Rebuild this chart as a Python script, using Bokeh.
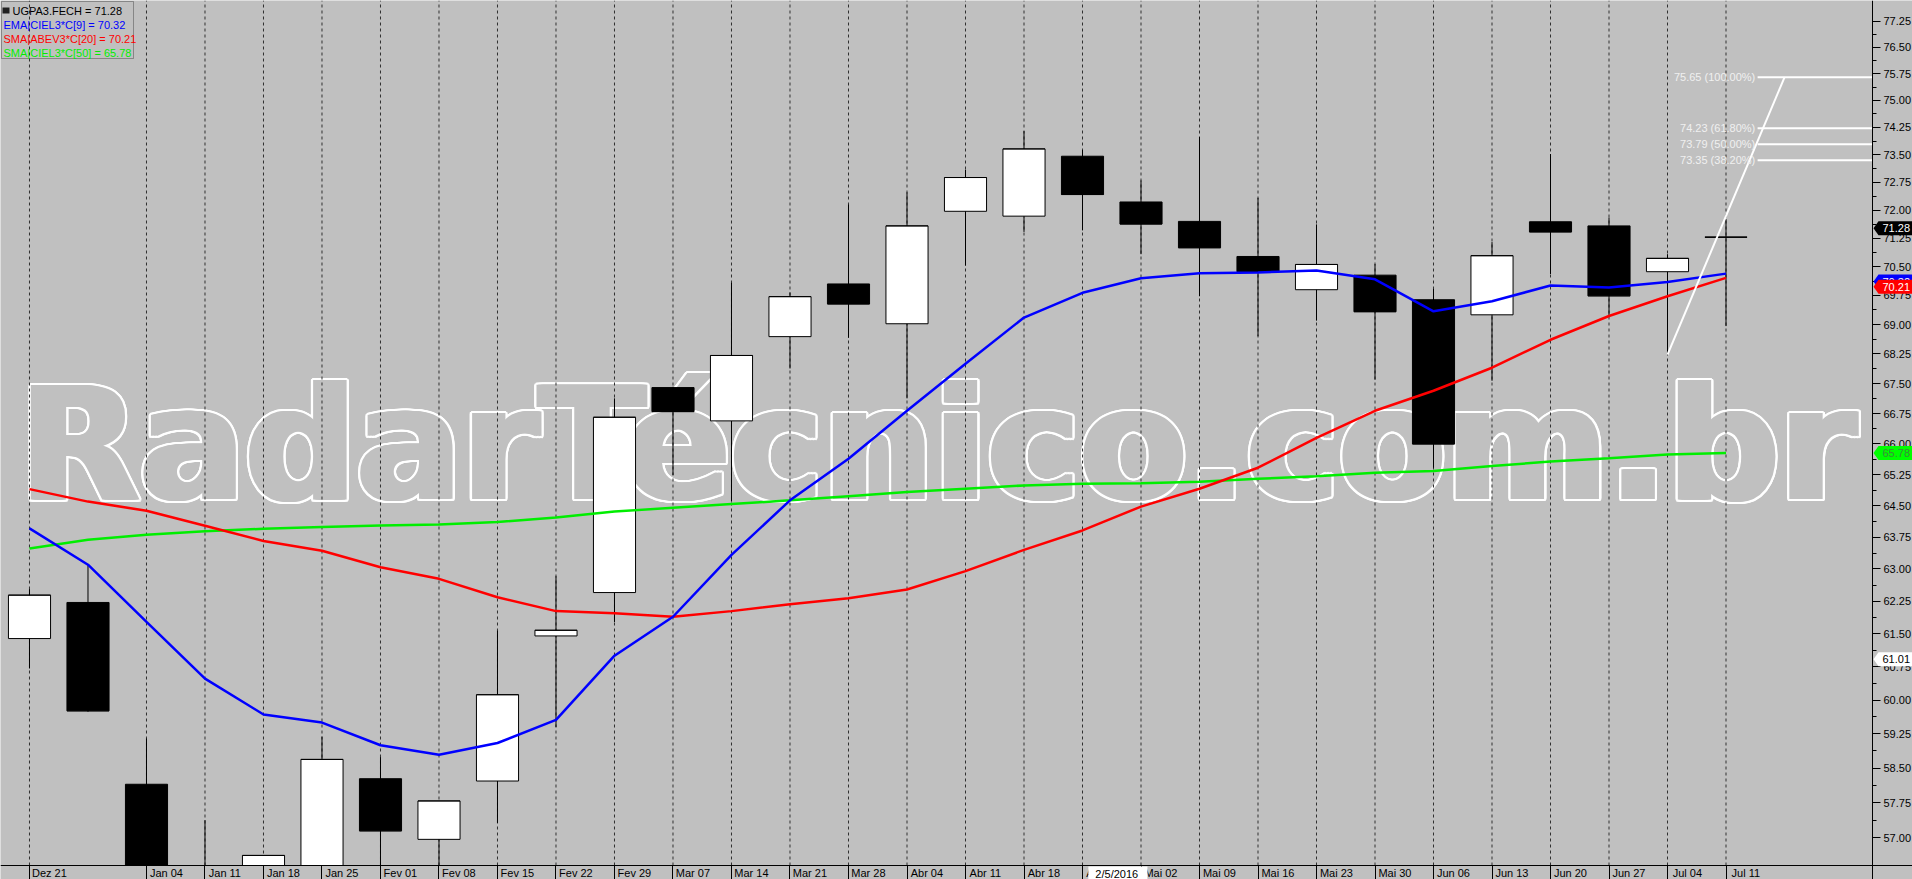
import math
from bokeh.plotting import figure
from bokeh.models import (Range1d, FixedTicker, PrintfTickFormatter, Label,
                          BoxAnnotation, PolyAnnotation, ColumnDataSource)
from bokeh.core.properties import value
from bokeh.embed import file_html
from bokeh.resources import INLINE

# ---------------- data ----------------
week_labels = ["Dez 21", "", "Jan 04", "Jan 11", "Jan 18", "Jan 25", "Fev 01", "Fev 08",
               "Fev 15", "Fev 22", "Fev 29", "Mar 07", "Mar 14", "Mar 21", "Mar 28",
               "Abr 04", "Abr 11", "Abr 18", "Abr 25", "Mai 02", "Mai 09", "Mai 16",
               "Mai 23", "Mai 30", "Jun 06", "Jun 13", "Jun 20", "Jun 27", "Jul 04", "Jul 11"]

opens  = [61.39, 62.22, 58.15, 56.10, 55.80, 56.20, 58.27, 56.97, 58.22, 61.45,
          62.45, 67.40, 66.57, 68.69, 70.05, 69.02, 71.97, 71.84, 73.46, 72.22,
          71.70, 70.77, 69.90, 70.28, 69.64, 69.25, 71.69, 71.58, 70.37, 71.28]
highs  = [62.53, 63.10, 59.15, 57.38, 56.63, 59.19, 58.74, 57.79, 61.57, 62.83,
          67.13, 67.42, 70.08, 69.83, 72.15, 72.48, 73.09, 74.15, 73.63, 72.80,
          73.99, 72.33, 71.62, 70.57, 69.92, 71.15, 73.52, 71.80, 70.83, 71.76]
lows   = [60.71, 59.74, 55.60, 55.00, 55.50, 55.90, 56.20, 56.30, 57.32, 59.40,
          61.77, 65.24, 64.60, 67.88, 68.66, 67.13, 70.53, 71.42, 71.46, 70.83,
          69.73, 68.70, 69.10, 67.60, 65.42, 67.57, 70.31, 69.20, 68.23, 68.96]
closes = [62.39, 59.76, 56.00, 55.50, 56.63, 58.69, 57.15, 57.79, 60.12, 61.58,
          66.66, 66.80, 68.21, 69.72, 69.53, 71.58, 72.88, 73.66, 72.42, 71.63,
          71.00, 70.37, 70.56, 69.33, 66.00, 70.79, 71.42, 69.74, 70.72, 71.28]

ema9  = [63.96, 63.10, 61.77, 60.48, 59.68, 59.50, 59.00, 58.79, 59.05, 59.56,
         61.00, 61.89, 63.33, 64.63, 65.64, 66.82, 68.00, 69.18, 69.82, 70.20,
         70.33, 70.35, 70.40, 70.17, 69.34, 69.60, 70.01, 69.96, 70.10, 70.32]
sma20 = [64.90, 64.60, 64.38, 64.02, 63.66, 63.43, 63.04, 62.77, 62.34, 62.02,
         61.97, 61.89, 62.02, 62.18, 62.32, 62.52, 62.95, 63.45, 63.91, 64.48,
         64.91, 65.42, 66.15, 66.82, 67.32, 67.90, 68.61, 69.22, 69.73, 70.21]
sma50 = [63.48, 63.69, 63.81, 63.89, 63.95, 63.99, 64.03, 64.05, 64.11, 64.22,
         64.36, 64.45, 64.54, 64.63, 64.73, 64.83, 64.91, 64.99, 65.03, 65.04,
         65.08, 65.15, 65.21, 65.30, 65.34, 65.46, 65.57, 65.65, 65.74, 65.78]

fib_levels = [75.65, 74.23, 73.79, 73.35]
fib_pcts = ["100.00%", "61.80%", "50.00%", "38.20%"]

y_tick_values = [57.00, 57.75, 58.50, 59.25, 60.00, 60.75, 61.50, 62.25, 63.00, 63.75,
                 64.50, 65.25, 66.00, 66.75, 67.50, 68.25, 69.00, 69.75, 70.50, 71.25,
                 72.00, 72.75, 73.50, 74.25, 75.00, 75.75, 76.50, 77.25]

tag_values = [61.01, 65.78, 70.32, 70.21, 71.28]
tag_fill = ["white", "#00ff00", "#0000ff", "#ff0000", "black"]
tag_text = ["black", "#3c8c3c", "white", "white", "white"]
tag_nudge = [4, 0, 8, 9, -9]   # pixel nudges the platform applies to avoid overlaps

cursor_date = "2/5/2016"
cursor_week = 18
watermark = "RadarTécnico.com.br"

# ---------------- figure ----------------
W, H = 1912, 879
X0, X1 = -0.4957, 32.188          # whole canvas is the frame
Y0, Y1 = 56.125, 77.843
X_AXIS_AT = 31.504                # right axis line (x data)
Y_AXIS_AT = 56.418                # bottom axis line (price)
BG = "#c0c0c0"
FONT = "Liberation Sans"

p = figure(width=W, height=H, output_backend="svg", toolbar_location=None,
           x_range=Range1d(X0, X1), y_range=Range1d(Y0, Y1),
           y_axis_type="log", y_axis_location="right",
           min_border_left=0, min_border_top=0, min_border_right=0, min_border_bottom=0,
           background_fill_color=BG, border_fill_color=BG, outline_line_color=None)

idx = list(range(len(week_labels)))
tick_idx = [i for i in idx if week_labels[i]]
label_pos = [round(i + 0.34, 2) for i in tick_idx]

xax = p.xaxis[0]
xax.fixed_location = Y_AXIS_AT
xax.ticker = FixedTicker(ticks=label_pos, minor_ticks=tick_idx)
xax.major_label_overrides = {lp: week_labels[i] for lp, i in zip(label_pos, tick_idx)}
xax.major_tick_out = 0
xax.major_tick_in = 0
xax.minor_tick_out = 14
xax.minor_tick_in = 0
xax.minor_tick_line_color = "black"
xax.axis_line_color = "black"
xax.major_label_standoff = -13
xax.major_label_text_font = FONT
xax.major_label_text_font_size = "11px"
xax.major_label_text_color = "black"

yax = p.yaxis[0]
yax.fixed_location = X_AXIS_AT
y_minor = [(a + b) / 2 for a, b in zip(y_tick_values[:-1], y_tick_values[1:])]
yax.ticker = FixedTicker(ticks=y_tick_values, minor_ticks=y_minor)
yax.formatter = PrintfTickFormatter(format="%.2f")
yax.major_tick_out = 8
yax.major_tick_in = 0
yax.minor_tick_out = 4
yax.minor_tick_in = 0
yax.major_tick_line_color = "black"
yax.minor_tick_line_color = "black"
yax.axis_line_color = "black"
yax.major_label_standoff = 3
yax.major_label_text_font = FONT
yax.major_label_text_font_size = "11px"
yax.major_label_text_color = "black"

p.xgrid.visible = False
p.ygrid.visible = False

# watermark: heavy letters (faux-bold copies) with a white 2px outline
WM_X, WM_Y, WM_SIZE = -0.17, 65.97, "156px"
core = [(-3.0, 0.0), (-1.5, 0.0), (0.0, 0.0), (1.5, 0.0), (3.0, 0.0)]
ring = [(2.2 * math.cos(a * math.pi / 8), 2.2 * math.sin(a * math.pi / 8)) for a in range(16)]
outline_offs = [(cx + rx, cy + ry) for cx, cy in core[::2] for rx, ry in ring]
wm_style = dict(text_font=value("DejaVu Sans"), text_font_style="bold", text_font_size=WM_SIZE,
                text_align="left", text_baseline="alphabetic")
p.text(x=[WM_X] * len(outline_offs), y=[WM_Y] * len(outline_offs),
       text=[watermark] * len(outline_offs),
       x_offset=[o[0] for o in outline_offs], y_offset=[o[1] for o in outline_offs],
       text_color="white", **wm_style)
p.text(x=[WM_X] * len(core), y=[WM_Y] * len(core), text=[watermark] * len(core),
       x_offset=[o[0] for o in core], y_offset=[o[1] for o in core],
       text_color=BG, **wm_style)

# dashed week grid, drawn above the watermark
p.segment(x0=tick_idx, y0=[Y_AXIS_AT] * len(tick_idx), x1=tick_idx, y1=[Y1] * len(tick_idx),
          line_color="#303030", line_dash="3 3", line_width=1)

# ---------------- candles (cut at the bottom axis) ----------------
nan = float("nan")
def cut(v):
    return max(v, Y_AXIS_AT)
body_top = [max(o, c) for o, c in zip(opens, closes)]
body_bot = [min(o, c) for o, c in zip(opens, closes)]
vis_top = [t if t > Y_AXIS_AT else nan for t in body_top]
vis_bot = [cut(b) if t > Y_AXIS_AT else nan for t, b in zip(body_top, body_bot)]
wick_hi = [h if h > Y_AXIS_AT else nan for h in highs]
wick_lo = [cut(l) if h > Y_AXIS_AT else nan for h, l in zip(highs, lows)]
close_ln = [c if c > Y_AXIS_AT else nan for c in closes]
body_col = ["white" if c >= o else "black" for o, c in zip(opens, closes)]
src = ColumnDataSource(dict(x=idx, h=wick_hi, l=wick_lo, c=close_ln,
                            top=vis_top, bot=vis_bot, col=body_col,
                            x0=[i - 0.36 for i in idx], x1=[i + 0.36 for i in idx]))
p.segment(x0="x", y0="h", x1="x", y1="l", source=src, line_color="black", line_width=1)
p.vbar(x="x", top="top", bottom="bot", width=0.72, source=src,
       fill_color="col", line_color="black", line_width=1)
p.segment(x0="x0", y0="c", x1="x1", y1="c", source=src, line_color="black", line_width=1)

# ---------------- moving averages ----------------
p.line(idx, sma50, line_color="#00ee00", line_width=2.5)
p.line(idx, sma20, line_color="#ff0000", line_width=2.5)
p.line(idx, ema9, line_color="#0000ff", line_width=2.5)

# ---------------- fibonacci ----------------
fib_start = 29.54
p.segment(x0=[fib_start] * len(fib_levels), y0=fib_levels,
          x1=[X_AXIS_AT] * len(fib_levels), y1=fib_levels, line_color="white", line_width=2)
p.line([28, 30], [lows[28], fib_levels[0]], line_color="white", line_width=2)
p.text(x=[fib_start - 0.04] * len(fib_levels), y=fib_levels,
       text=[f"{v:.2f} ({pc})" for v, pc in zip(fib_levels, fib_pcts)],
       text_font=value(FONT), text_font_size="11px", text_color="#f0f0f0",
       text_align="right", text_baseline="middle")

# ---------------- legend box ----------------
def scr(units="screen"):
    return dict(left_units=units, right_units=units, top_units=units, bottom_units=units)
p.add_layout(BoxAnnotation(left=1, right=133, top=H - 1, bottom=H - 58, **scr(),
                           fill_alpha=0, line_color="black", line_width=1))
p.add_layout(BoxAnnotation(left=2, right=9, top=H - 7, bottom=H - 13, **scr(),
                           fill_color="#202020", fill_alpha=1, line_color=None))
legend_lines = [(f"UGPA3.FECH = {closes[-1]:.2f}", "black", 12),
                (f"EMA|CIEL3*C[9] = {ema9[-1]:.2f}", "#0000ff", 3),
                (f"SMA|ABEV3*C[20] = {sma20[-1]:.2f}", "#ff0000", 3),
                (f"SMA|CIEL3*C[50] = {sma50[-1]:.2f}", "#00ee00", 3)]
for k, (txt, col, x) in enumerate(legend_lines):
    p.add_layout(Label(x=x, y=H - 10 - 14 * k, x_units="screen", y_units="screen",
                       text=txt, text_color=col, text_font=FONT, text_font_size="11px",
                       text_baseline="middle", text_align="left"))

# ---------------- price tags on right axis ----------------
px_per_ln = H / math.log(Y1 / Y0)
AX = 1872
for v, fc, tc, nd in zip(tag_values, tag_fill, tag_text, tag_nudge):
    vc = v * math.exp(-nd / px_per_ln)
    up, dn = vc * math.exp(7 / px_per_ln), vc * math.exp(-7 / px_per_ln)
    p.add_layout(PolyAnnotation(xs=[AX + 1, AX + 6, W, W, AX + 6],
                                ys=[vc, up, up, dn, dn],
                                xs_units="screen", ys_units="data",
                                fill_color=fc, fill_alpha=1, line_color=None))
    p.add_layout(Label(x=AX + 10, y=vc, x_units="screen", y_units="data",
                       text=f"{v:.2f}", text_color=tc, text_font=FONT, text_font_size="11px",
                       text_baseline="middle", text_align="left"))

# ---------------- cursor date box ----------------
p.add_layout(BoxAnnotation(left=cursor_week + 0.10, right=cursor_week + 1.11, top=13, bottom=0,
                           left_units="data", right_units="data",
                           top_units="screen", bottom_units="screen",
                           fill_color="white", fill_alpha=1, line_color=None))
p.add_layout(Label(x=cursor_week + 0.22, y=6, x_units="data", y_units="screen",
                   text=cursor_date, text_color="black", text_font=FONT, text_font_size="11px",
                   text_baseline="middle", text_align="left"))

open("out.html", "w").write(file_html(p, INLINE))
